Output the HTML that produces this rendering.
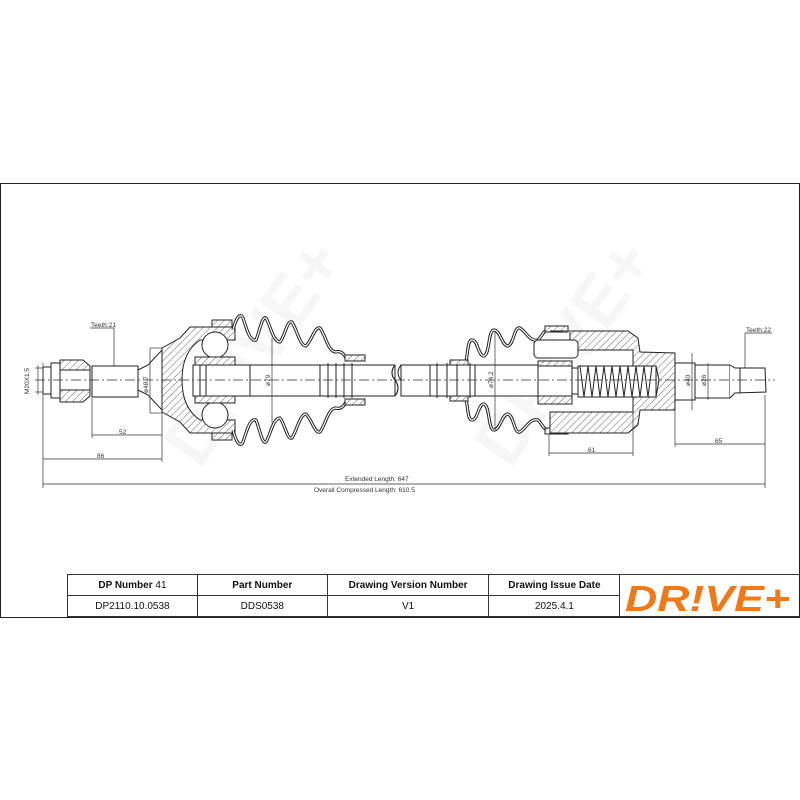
<!DOCTYPE html>
<html><head><meta charset="utf-8"><style>
body{margin:0;background:#fff;}
.wrap{position:relative;width:800px;height:800px;background:#fff;overflow:hidden;font-family:"Liberation Sans",sans-serif;}
table{position:absolute;left:67px;top:574px;border-collapse:collapse;font-size:10px;color:#111;}
td{border:1px solid #333;text-align:center;height:20px;padding:0;}
</style></head><body><div class="wrap">
<svg width="800" height="800" style="position:absolute;left:0;top:0" font-family="Liberation Sans, sans-serif">
<defs>
<pattern id="h" width="5" height="5" patternUnits="userSpaceOnUse" patternTransform="rotate(45)">
<rect width="5" height="5" fill="#fff"/><line x1="0" y1="0" x2="0" y2="5" stroke="#444" stroke-width="0.8"/></pattern>
</defs>
<rect x="0.5" y="183.5" width="799" height="434" fill="none" stroke="#222" stroke-width="1"/>
<g fill="#f2f2f2" font-size="70" font-weight="bold" opacity="0.6">
<text transform="translate(200,470) rotate(-55)">DRIVE+</text>
<text transform="translate(510,470) rotate(-55)">DRIVE+</text>
</g>
<g stroke="#222" stroke-width="1" fill="none">
<rect x="43" y="367" width="8" height="27" fill="#fff"/>
<rect x="51" y="363" width="9" height="35" fill="#fff"/>
<path d="M60 360 L83 360 L90 366 L90 396 L83 402 L60 402 Z" fill="url(#h)"/>
<rect x="60" y="370" width="30" height="20" fill="#fff"/>
<rect x="92" y="366" width="46" height="31" fill="#fff"/>
<path d="M138 370 L148 365 L162 350 L162 410 L148 395 L138 390"/>
<path d="M162 348 L180 338 L190 327 L235 327 L235 340 L200 340 Q182 352 182 380 Q182 408 200 420 L235 420 L235 433 L190 433 L180 422 L162 412 Z" fill="url(#h)"/>
<circle cx="215" cy="345" r="13" fill="#fff"/><circle cx="215" cy="415" r="13" fill="#fff"/>
<rect x="195" y="357" width="40" height="8" fill="url(#h)"/><rect x="195" y="395" width="40" height="8" fill="url(#h)"/>
<rect x="193" y="365" width="202" height="31" fill="#fff"/>
<rect x="200" y="365" width="6" height="31"/>
<line x1="250" y1="365" x2="250" y2="396"/>
<g><line x1="320" y1="365" x2="320" y2="396"/><line x1="328" y1="363" x2="328" y2="398"/><line x1="336" y1="363" x2="336" y2="398"/><line x1="344" y1="363" x2="344" y2="398"/><line x1="352" y1="363" x2="352" y2="398"/></g>
<path d="M395 365 q-6 8 0 15 q6 8 0 16" /><path d="M401 365 q-6 8 0 15 q6 8 0 16"/>
<rect x="401" y="365" width="150" height="31" fill="#fff"/>
<path d="M395 365 q-6 8 0 15 q6 8 0 16" />
<g><line x1="430" y1="365" x2="430" y2="396"/><line x1="437" y1="363" x2="437" y2="398"/><line x1="447" y1="363" x2="447" y2="398"/><line x1="457" y1="363" x2="457" y2="398"/><line x1="470" y1="363" x2="470" y2="398"/><line x1="475" y1="365" x2="475" y2="396"/></g>
</g>
<g fill="none" stroke-linejoin="round">
<g id="lb">
<path d="M233 330 C236 318 240 312 243 318 C247 330 250 342 256 340 C260 330 262 316 266 318 C270 324 273 342 280 342 C285 336 287 320 292 322 C297 330 300 346 306 346 C312 340 315 326 320 328 C326 336 328 352 336 352 C342 350 345 356 346 358" stroke="#222" stroke-width="3.2"/>
<path d="M233 330 C236 318 240 312 243 318 C247 330 250 342 256 340 C260 330 262 316 266 318 C270 324 273 342 280 342 C285 336 287 320 292 322 C297 330 300 346 306 346 C312 340 315 326 320 328 C326 336 328 352 336 352 C342 350 345 356 346 358" stroke="#fff" stroke-width="1.2"/>
</g>
<use href="#lb" transform="translate(0,760) scale(1,-1)"/>
<g id="rb">
<path d="M466 362 C468 350 468 340 472 340 C478 340 478 356 484 356 C490 354 488 330 494 330 C500 330 502 346 508 346 C514 344 514 326 520 328 C526 332 530 342 538 340 C542 336 544 330 548 330" stroke="#222" stroke-width="3.2"/>
<path d="M466 362 C468 350 468 340 472 340 C478 340 478 356 484 356 C490 354 488 330 494 330 C500 330 502 346 508 346 C514 344 514 326 520 328 C526 332 530 342 538 340 C542 336 544 330 548 330" stroke="#fff" stroke-width="1.2"/>
</g>
<use href="#rb" transform="translate(0,760) scale(1,-1)"/>
</g>
<g stroke="#222" stroke-width="1">
<rect x="212" y="320" width="20" height="7" fill="url(#h)"/><rect x="212" y="433" width="20" height="7" fill="url(#h)"/>
<rect x="345" y="355" width="20" height="6" fill="url(#h)"/><rect x="345" y="399" width="20" height="6" fill="url(#h)"/>
<rect x="450" y="360" width="18" height="5" fill="url(#h)"/><rect x="450" y="396" width="18" height="5" fill="url(#h)"/>
<rect x="545" y="326" width="23" height="6" fill="url(#h)"/><rect x="545" y="428" width="23" height="6" fill="url(#h)"/>
<path d="M550 331 L628 331 L638 338 L640 352 L675 353 L675 410 L640 410 L638 425 L628 433 L550 433 L550 412 L633 412 L633 350 L570 350 L570 332" fill="url(#h)"/>
<rect x="578" y="366" width="78" height="31" fill="#fff"/>
<polyline fill="none" points="580,366 584,397 588,366 592,397 596,366 600,397 604,366 608,397 612,366 616,397 620,366 624,397 628,366 632,397 636,366 640,397 644,366 648,397 652,366" />
<path d="M652 366 L656 366 L659 380 L656 397 L652 397" fill="none"/>
<rect x="538" y="361" width="34" height="40" fill="#fff"/>
<rect x="538" y="361" width="34" height="5" fill="url(#h)"/><rect x="538" y="396" width="34" height="8" fill="url(#h)"/>
<rect x="534" y="340" width="44" height="18" rx="4" fill="#fff"/>
<rect x="572" y="368" width="6" height="26" fill="#fff"/>
<rect x="675" y="363" width="20" height="37" fill="#fff"/>
<rect x="695" y="365" width="35" height="33" fill="#fff"/>
<path d="M730 365 L735 368 L765 368 L766 392 L735 393 L730 398" fill="#fff"/>
<line x1="740" y1="368" x2="740" y2="393"/>
</g>
<line x1="35" y1="380" x2="775" y2="380" stroke="#333" stroke-width="0.7" stroke-dasharray="10,3,2,3"/>
<g stroke="#333" stroke-width="0.7" fill="none">
<line x1="43" y1="363" x2="43" y2="488"/><line x1="92" y1="398" x2="92" y2="438"/><line x1="162" y1="412" x2="162" y2="462"/>
<line x1="92" y1="435" x2="162" y2="435"/><line x1="43" y1="459" x2="162" y2="459"/><line x1="43" y1="484" x2="765" y2="484"/>
<line x1="765" y1="395" x2="765" y2="488"/><line x1="675" y1="410" x2="675" y2="447"/><line x1="675" y1="444" x2="765" y2="444"/>
<line x1="549" y1="434" x2="549" y2="456"/><line x1="633" y1="412" x2="633" y2="456"/><line x1="549" y1="453" x2="633" y2="453"/>
<line x1="35" y1="368" x2="43" y2="368"/><line x1="35" y1="392" x2="43" y2="392"/><line x1="38" y1="365" x2="38" y2="395"/>
<line x1="150" y1="348" x2="150" y2="413"/><line x1="150" y1="348" x2="162" y2="348"/><line x1="150" y1="413" x2="162" y2="413"/>
<line x1="272" y1="338" x2="272" y2="423"/><line x1="495" y1="332" x2="495" y2="430"/>
<line x1="692" y1="353" x2="692" y2="410"/><line x1="708" y1="363" x2="708" y2="400"/>
<polyline points="90,328 114,328 114,366"/><polyline points="745,333 772,333"/><line x1="745" y1="333" x2="745" y2="368"/>
</g>
<g font-size="6.5" fill="#333">
<text x="91" y="327">Teeth:21</text><text x="746" y="332">Teeth:22</text>
<text x="119" y="434">52</text><text x="97" y="458">86</text><text x="588" y="452">61</text><text x="715" y="443">65</text>
<text x="345" y="481">Extended  Length: 647</text>
<text x="314" y="492">Overall  Compressed  Length: 610.5</text>
<text transform="translate(29,394) rotate(-90)">M20X1.5</text>
<text transform="translate(148,393) rotate(-90)">ø48.7</text>
<text transform="translate(270,386) rotate(-90)">ø79</text>
<text transform="translate(493,388) rotate(-90)">ø74.2</text>
<text transform="translate(690,386) rotate(-90)">ø40</text>
<text transform="translate(706,386) rotate(-90)">ø26</text>
</g>
<text x="625" y="611" font-size="36" font-weight="bold" font-style="italic" fill="#f07a1a" textLength="165" lengthAdjust="spacingAndGlyphs">DR!VE+</text>
</svg>
<table>
<tr><td style="width:129px"><b>DP Number</b> 41</td><td style="width:129px"><b>Part Number</b></td><td style="width:161px"><b>Drawing Version Number</b></td><td style="width:130px"><b>Drawing Issue Date</b></td><td rowspan="2" style="width:180px;border-right:none"></td></tr>
<tr><td>DP2110.10.0538</td><td>DDS0538</td><td>V1</td><td>2025.4.1</td></tr>
</table>
</div></body></html>
